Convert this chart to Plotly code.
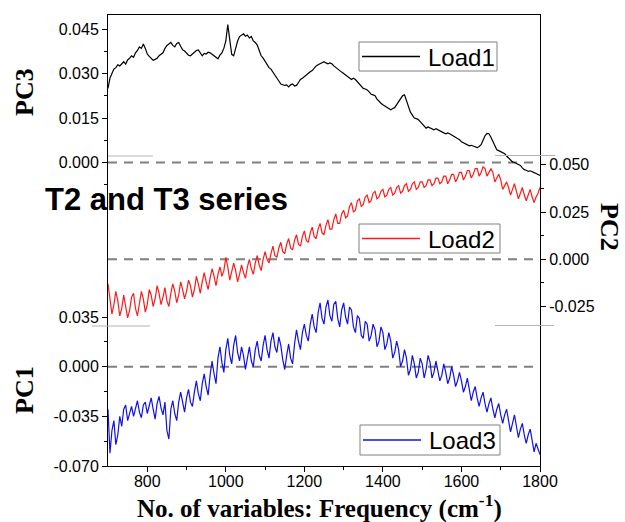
import plotly.graph_objects as go

# Wavenumber grid (cm^-1), 5 cm^-1 steps from 700 to 1800
freq = list(range(700, 1801, 5))

# PC3 loadings (Load1)
pc3 = [
    0.0250, 0.0285, 0.0300, 0.0315, 0.0320, 0.0330, 0.0326, 0.0335, 0.0340, 0.0332,
    0.0346, 0.0352, 0.0360, 0.0355, 0.0370, 0.0378, 0.0390, 0.0385, 0.0400, 0.0385,
    0.0366, 0.0358, 0.0350, 0.0345, 0.0348, 0.0352, 0.0360, 0.0366, 0.0370, 0.0385,
    0.0395, 0.0400, 0.0405, 0.0395, 0.0390, 0.0402, 0.0405, 0.0392, 0.0380, 0.0376,
    0.0370, 0.0362, 0.0360, 0.0366, 0.0370, 0.0378, 0.0380, 0.0370, 0.0360, 0.0368,
    0.0366, 0.0372, 0.0370, 0.0365, 0.0360, 0.0355, 0.0350, 0.0362, 0.0370, 0.0385,
    0.0410, 0.0465, 0.0420, 0.0365, 0.0360, 0.0390, 0.0410, 0.0425, 0.0430, 0.0434,
    0.0426, 0.0430, 0.0420, 0.0425, 0.0410, 0.0405, 0.0396, 0.0380, 0.0360, 0.0352,
    0.0340, 0.0330, 0.0320, 0.0315, 0.0306, 0.0295, 0.0286, 0.0275, 0.0265, 0.0262,
    0.0260, 0.0262, 0.0255, 0.0262, 0.0265, 0.0258, 0.0260, 0.0270, 0.0280, 0.0284,
    0.0290, 0.0296, 0.0300, 0.0306, 0.0310, 0.0320, 0.0326, 0.0330, 0.0333, 0.0338,
    0.0340, 0.0336, 0.0333, 0.0336, 0.0333, 0.0326, 0.0320, 0.0316, 0.0310, 0.0305,
    0.0300, 0.0296, 0.0290, 0.0285, 0.0280, 0.0284, 0.0280, 0.0272, 0.0265, 0.0258,
    0.0250, 0.0248, 0.0245, 0.0238, 0.0230, 0.0228, 0.0225, 0.0214, 0.0205, 0.0200,
    0.0195, 0.0190, 0.0185, 0.0180, 0.0178, 0.0182, 0.0185, 0.0195, 0.0205, 0.0215,
    0.0225, 0.0228, 0.0210, 0.0190, 0.0170, 0.0160, 0.0150, 0.0148, 0.0145, 0.0138,
    0.0130, 0.0122, 0.0116, 0.0120, 0.0116, 0.0112, 0.0110, 0.0114, 0.0110, 0.0106,
    0.0103, 0.0100, 0.0097, 0.0100, 0.0097, 0.0093, 0.0090, 0.0087, 0.0083, 0.0077,
    0.0070, 0.0067, 0.0063, 0.0060, 0.0056, 0.0058, 0.0056, 0.0052, 0.0050, 0.0054,
    0.0060, 0.0075, 0.0090, 0.0098, 0.0097, 0.0085, 0.0070, 0.0056, 0.0043, 0.0040,
    0.0036, 0.0033, 0.0030, 0.0022, 0.0016, 0.0008, 0.0002, 0.0000, -0.0004, -0.0006,
    -0.0010, -0.0018, -0.0024, -0.0026, -0.0030, -0.0028, -0.0030, -0.0034, -0.0037, -0.0040,
    -0.0044,
]

# PC2 loadings (Load2)
pc2 = [
    -0.013, -0.022, -0.029, -0.024, -0.017, -0.022, -0.030, -0.026, -0.019, -0.025,
    -0.031, -0.027, -0.020, -0.018, -0.026, -0.030, -0.023, -0.017, -0.021, -0.028,
    -0.024, -0.016, -0.019, -0.025, -0.021, -0.014, -0.018, -0.024, -0.020, -0.015,
    -0.022, -0.025, -0.018, -0.013, -0.017, -0.023, -0.019, -0.012, -0.016, -0.021,
    -0.017, -0.011, -0.014, -0.020, -0.016, -0.009, -0.013, -0.018, -0.012, -0.007,
    -0.012, -0.016, -0.010, -0.005, -0.009, -0.014, -0.008, -0.004, -0.009, -0.006,
    0.001, -0.004, -0.011, -0.007, -0.002, -0.006, -0.012, -0.008, -0.003, -0.007,
    -0.010, -0.004, 0.000, -0.005, -0.008, -0.002, 0.002, -0.003, -0.006, 0.000,
    0.004, 0.000, -0.002, 0.003, 0.007, 0.002, 0.001, 0.006, 0.009, 0.004,
    0.003, 0.008, 0.011, 0.006, 0.005, 0.010, 0.013, 0.008, 0.007, 0.012,
    0.015, 0.010, 0.009, 0.014, 0.017, 0.012, 0.011, 0.016, 0.019, 0.014,
    0.013, 0.018, 0.021, 0.016, 0.016, 0.021, 0.024, 0.019, 0.019, 0.024,
    0.026, 0.022, 0.023, 0.028, 0.030, 0.025, 0.026, 0.031, 0.032, 0.028,
    0.029, 0.033, 0.034, 0.030, 0.031, 0.035, 0.036, 0.032, 0.033, 0.036,
    0.037, 0.033, 0.034, 0.037, 0.038, 0.034, 0.035, 0.038, 0.039, 0.035,
    0.036, 0.039, 0.040, 0.036, 0.037, 0.040, 0.041, 0.037, 0.038, 0.041,
    0.041, 0.038, 0.039, 0.042, 0.042, 0.039, 0.040, 0.043, 0.043, 0.040,
    0.041, 0.044, 0.044, 0.040, 0.042, 0.045, 0.045, 0.041, 0.043, 0.046,
    0.046, 0.042, 0.044, 0.047, 0.047, 0.043, 0.045, 0.048, 0.048, 0.044,
    0.046, 0.049, 0.048, 0.044, 0.046, 0.048, 0.046, 0.041, 0.043, 0.045,
    0.042, 0.037, 0.039, 0.041, 0.038, 0.034, 0.037, 0.040, 0.036, 0.032,
    0.035, 0.038, 0.034, 0.031, 0.034, 0.037, 0.033, 0.030, 0.033, 0.035,
    0.038,
]

# PC1 loadings (Load3)
pc1 = [
    -0.030, -0.061, -0.045, -0.038, -0.055, -0.048, -0.035, -0.042, -0.030, -0.027,
    -0.038, -0.033, -0.028, -0.035, -0.030, -0.024, -0.032, -0.036, -0.027, -0.025,
    -0.033, -0.028, -0.022, -0.030, -0.037, -0.026, -0.021, -0.029, -0.034, -0.025,
    -0.045, -0.051, -0.030, -0.024, -0.033, -0.038, -0.025, -0.018, -0.026, -0.032,
    -0.022, -0.016, -0.025, -0.028, -0.018, -0.010, -0.019, -0.024, -0.012, -0.005,
    -0.014, -0.020, -0.006, 0.004, -0.005, -0.012, 0.006, 0.014, 0.003, -0.004,
    0.012, 0.020, 0.008, 0.002, 0.015, 0.022, 0.010, 0.004, 0.014, 0.008,
    -0.002, 0.006, 0.014, 0.004, 0.000, 0.012, 0.018, 0.008, 0.004, 0.015,
    0.022, 0.012, 0.006, 0.018, 0.024, 0.014, 0.010, 0.021, 0.015, 0.005,
    -0.002, 0.008, 0.016, 0.006, 0.002, 0.016, 0.026, 0.018, 0.012, 0.024,
    0.030, 0.022, 0.018, 0.030, 0.037, 0.028, 0.024, 0.038, 0.045, 0.034,
    0.030, 0.042, 0.047, 0.036, 0.032, 0.044, 0.046, 0.034, 0.028, 0.040,
    0.045, 0.035, 0.030, 0.042, 0.040, 0.028, 0.024, 0.036, 0.034, 0.022,
    0.020, 0.032, 0.030, 0.018, 0.022, 0.030, 0.026, 0.014, 0.018, 0.028,
    0.024, 0.012, 0.016, 0.024, 0.018, 0.006, 0.010, 0.018, 0.012, 0.000,
    0.004, 0.012, 0.006, -0.006, -0.002, 0.008, 0.002, -0.008, -0.004, 0.006,
    0.002, -0.008, -0.002, 0.008, 0.003, -0.008, -0.004, 0.004, -0.002, -0.010,
    -0.006, 0.002, -0.004, -0.012, -0.008, 0.000, -0.006, -0.014, -0.010, -0.004,
    -0.010, -0.018, -0.014, -0.008, -0.016, -0.024, -0.018, -0.014, -0.022, -0.028,
    -0.022, -0.018, -0.026, -0.032, -0.026, -0.022, -0.030, -0.036, -0.030, -0.026,
    -0.034, -0.040, -0.034, -0.030, -0.038, -0.046, -0.040, -0.034, -0.042, -0.050,
    -0.044, -0.040, -0.048, -0.054, -0.048, -0.044, -0.052, -0.060, -0.054, -0.058,
    -0.062,
]

series_names = ["Load1", "Load2", "Load3"]
series_colors = ["black", "#ff1a1a", "#1010ee"]

# Axis ticks
x_ticks = [800, 1000, 1200, 1400, 1600, 1800]
x_minor = [900, 1100, 1300, 1500, 1700]
pc3_ticks = [0.000, 0.015, 0.030, 0.045]
pc3_minor = [-0.0075, 0.0075, 0.0225, 0.0375]
pc2_ticks = [-0.025, 0.000, 0.025, 0.050]
pc2_minor = [-0.0125, 0.0125, 0.0375]
pc1_ticks = [-0.070, -0.035, 0.000, 0.035]
pc1_minor = [-0.0525, -0.0175, 0.0175]

# Plot-area geometry in pixels (used for placing decorations)
W, H = 625, 522
L, R, T, B = 108, 540, 15, 466


def px(x):
    return (x - L) / (R - L)


def py(y):
    return (B - y) / (B - T)


SANS = "Liberation Sans, Arial, sans-serif"
SERIF = "Liberation Serif, Times New Roman, serif"

fig = go.Figure()
for yvals, axis, name, color in zip([pc3, pc2, pc1], ["y3", "y2", "y"], series_names, series_colors):
    fig.add_trace(go.Scatter(x=freq, y=yvals, mode="lines", name=name, yaxis=axis,
                             line=dict(color=color, width=1.2), showlegend=False))


def fmt(vals):
    return [f"{v:.3f}" for v in vals]


axis_common = dict(showgrid=False, zeroline=False, showline=True, linecolor="black",
                   linewidth=1, ticks="outside", ticklen=5, tickcolor="black",
                   tickfont=dict(family=SANS, size=16, color="black"))


def minor(vals):
    return dict(tickmode="array", tickvals=vals, ticks="outside", ticklen=3,
                tickcolor="black", showgrid=False)


fig.update_layout(
    width=W, height=H,
    margin=dict(l=L, r=W - R, t=T, b=H - B),
    paper_bgcolor="white", plot_bgcolor="white",
    showlegend=False,
    xaxis=dict(range=[700, 1800], tickmode="array", tickvals=x_ticks,
               ticktext=[str(v) for v in x_ticks], minor=minor(x_minor),
               mirror=True, ticklabelstandoff=-4, **axis_common),
    yaxis=dict(range=[-0.070, -0.070 + 451 / 1419], tickmode="array", tickvals=pc1_ticks,
               ticktext=fmt(pc1_ticks), minor=minor(pc1_minor), side="left", **axis_common),
    yaxis2=dict(range=[-(466 - 259.3) / 1889, (259.3 - 15) / 1889], overlaying="y",
                side="right", tickmode="array", tickvals=pc2_ticks, ticktext=fmt(pc2_ticks),
                minor=minor(pc2_minor), **axis_common),
    yaxis3=dict(range=[-(466 - 162.5) / 2964, (162.5 - 15) / 2964], overlaying="y",
                side="left", tickmode="array", tickvals=pc3_ticks, ticktext=fmt(pc3_ticks),
                minor=minor(pc3_minor), **axis_common),
)

# Zero reference lines for each panel
for yref in ("y3", "y2", "y"):
    fig.add_shape(type="line", xref="paper", yref=yref, x0=0, x1=1, y0=0, y1=0,
                  line=dict(color="#808080", width=2, dash="9px,7px"), layer="below")

# Faint frame edges between the stacked panels
for x0, x1, y in [(108, 153, 156), (495, 555, 155.5), (92, 150, 326), (495, 554, 325.5)]:
    fig.add_shape(type="line", xref="paper", yref="paper", x0=px(x0), x1=px(x1),
                  y0=py(y), y1=py(y), line=dict(color="#b4b4b4", width=1))

annotations = []

# Boxed keys, one per panel: (left, top, right, bottom) in pixels
key_boxes = [(359, 42, 497, 71), (359, 224, 500, 253), (360, 425, 500, 455)]
for (x0, y0, x1, y1), name, color in zip(key_boxes, series_names, series_colors):
    ym = (y0 + y1) / 2
    fig.add_shape(type="rect", xref="paper", yref="paper", x0=px(x0), x1=px(x1),
                  y0=py(y1), y1=py(y0), fillcolor="white",
                  line=dict(color="#808080", width=1))
    fig.add_shape(type="line", xref="paper", yref="paper", x0=px(x0 + 3), x1=px(x0 + 61),
                  y0=py(ym), y1=py(ym), line=dict(color=color, width=1.5))
    annotations.append(dict(text=name, x=px(x0 + 67), y=py(ym + 0.5), xanchor="left",
                            yanchor="middle",
                            font=dict(family=SANS, size=24, color="black")))

annotations += [
    dict(text="<b>PC3</b>", x=px(24), y=py(92), textangle=-90,
         font=dict(family=SERIF, size=26, color="black")),
    dict(text="<b>PC1</b>", x=px(24), y=py(390), textangle=-90,
         font=dict(family=SERIF, size=26, color="black")),
    dict(text="<b>PC2</b>", x=px(610), y=py(227), textangle=90,
         font=dict(family=SERIF, size=26, color="black")),
    dict(text="<b>No. of variables: Frequency (cm<sup>-1</sup>)</b>", x=px(319), y=py(525),
         yanchor="bottom", font=dict(family=SERIF, size=25, color="black")),
    dict(text="<b>T2 and T3 series</b>", x=px(166), y=py(200),
         font=dict(family=SANS, size=31, color="black")),
]
for a in annotations:
    a.setdefault("xanchor", "center")
    a.setdefault("yanchor", "middle")
    a.update(xref="paper", yref="paper", showarrow=False)
fig.update_layout(annotations=annotations)

fig.write_html("out.html")
